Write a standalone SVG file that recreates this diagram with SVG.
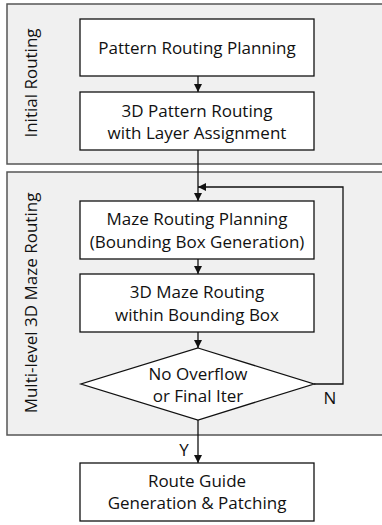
<svg xmlns="http://www.w3.org/2000/svg" width="382" height="525" viewBox="0 0 382 525">
  <style>
    .stage { fill: #f0f0f0; stroke: #555; stroke-width: 1.5; }
    .box { fill: #fff; stroke: #111; stroke-width: 1.3; }
    .wire { fill: none; stroke: #111; stroke-width: 1.3; }
    text { font-family: "Open Sans", "Liberation Sans", sans-serif; font-size: 17px; fill: #111; text-anchor: middle; }
  </style>
  <defs>
    <marker id="head" viewBox="0 0 10 10" refX="10" refY="5" markerWidth="8" markerHeight="8" markerUnits="userSpaceOnUse" orient="auto">
      <path d="M0,0 L10,5 L0,10 Z" fill="#111"/>
    </marker>
  </defs>

  <!-- stage panels (open on the right) -->
  <g id="stage-initial">
    <path class="stage" d="M390,4 H7 V164 H390"/>
    <text transform="translate(37,83) rotate(-90)">Initial Routing</text>
  </g>
  <g id="stage-maze">
    <path class="stage" d="M390,172 H7 V435 H390"/>
    <text transform="translate(37,303) rotate(-90)">Multi-level 3D Maze Routing</text>
  </g>

  <g id="pattern-planning">
    <rect class="box" x="80" y="19" width="234" height="57"/>
    <text x="197" y="54">Pattern Routing Planning</text>
  </g>
  <g id="pattern-routing">
    <rect class="box" x="80" y="92" width="234" height="58"/>
    <text x="197" y="117">3D Pattern Routing</text>
    <text x="197" y="139">with Layer Assignment</text>
  </g>
  <g id="maze-planning">
    <rect class="box" x="80" y="201" width="234" height="58"/>
    <text x="197" y="225">Maze Routing Planning</text>
    <text x="197" y="248">(Bounding Box Generation)</text>
  </g>
  <g id="maze-routing">
    <rect class="box" x="80" y="274" width="234" height="58"/>
    <text x="197" y="298">3D Maze Routing</text>
    <text x="197" y="321">within Bounding Box</text>
  </g>
  <g id="overflow-check">
    <polygon class="box" points="198,348 314,384 198,420 81,384"/>
    <text x="198" y="380">No Overflow</text>
    <text x="198" y="402">or Final Iter</text>
  </g>
  <g id="route-guide">
    <rect class="box" x="80" y="463" width="234" height="58"/>
    <text x="197" y="487">Route Guide</text>
    <text x="197" y="509">Generation &amp; Patching</text>
  </g>

  <g id="connectors">
    <line class="wire" x1="198" y1="76" x2="198" y2="92" marker-end="url(#head)"/>
    <line class="wire" x1="198" y1="150" x2="198" y2="201" marker-end="url(#head)"/>
    <line class="wire" x1="198" y1="259" x2="198" y2="274" marker-end="url(#head)"/>
    <line class="wire" x1="198" y1="332" x2="198" y2="348" marker-end="url(#head)"/>
    <polyline class="wire" points="314,384 343,384 343,187 198,187" marker-end="url(#head)"/>
    <line class="wire" x1="198" y1="420" x2="198" y2="463" marker-end="url(#head)"/>
    <text x="330" y="404">N</text>
    <text x="184" y="456">Y</text>
  </g>
</svg>
